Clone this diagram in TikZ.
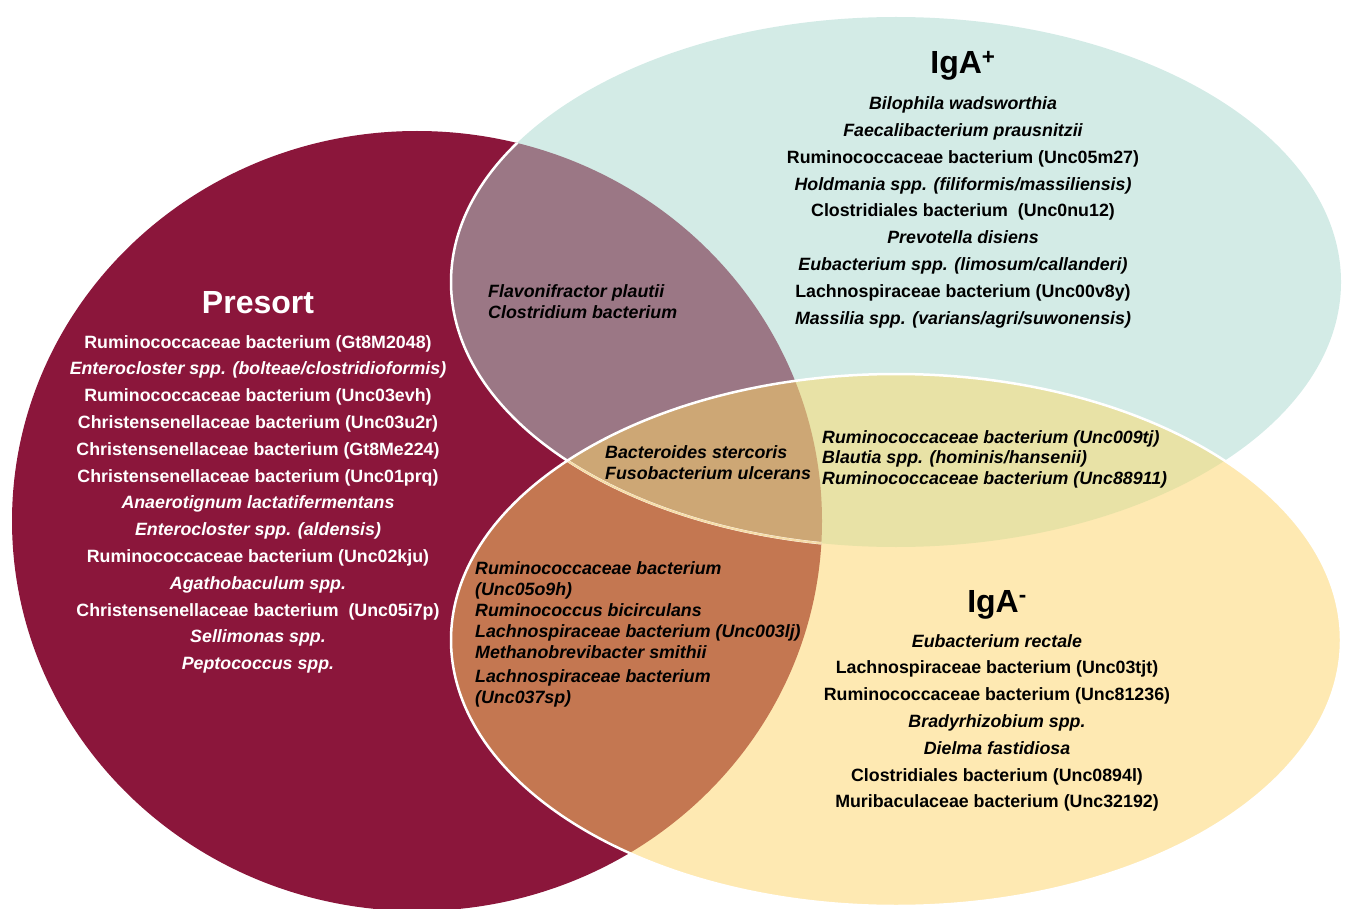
\documentclass[tikz,border=0pt]{standalone}
\usepackage{fontspec}
\setmainfont{Liberation Sans}
\definecolor{cP}{HTML}{8B163B}
\definecolor{cPlus}{HTML}{D3EBE6}
\definecolor{cMinus}{HTML}{FEE9B2}
\definecolor{cPPlus}{HTML}{9B7785}
\definecolor{cPMinus}{HTML}{C47751}
\definecolor{cPlusMinus}{HTML}{E8E2A6}
\definecolor{cAll}{HTML}{CDA775}
\definecolor{cPale}{HTML}{F6DDA8}
\begin{document}
\begin{tikzpicture}[x=1pt,y=-1pt,
  txt/.style={font=\fontsize{17.8}{21}\selectfont\bfseries, inner sep=0pt, anchor=base},
  ltxt/.style={txt, anchor=base west},
  itx/.style={ltxt, font=\fontsize{17.8}{21}\selectfont\bfseries\itshape},
  ttl/.style={font=\fontsize{32}{38}\selectfont\bfseries, inner sep=0pt, anchor=base},
  outline/.style={white, line width=2.5pt}]
\useasboundingbox (0,0) rectangle (1346,909);
\def\Pell{(417,521) ellipse [x radius=405, y radius=390]}
\def\Plus{(896,282) ellipse [x radius=445, y radius=265]}
\def\Minus{(896,640) ellipse [x radius=445, y radius=266]}
% base fills
\fill[cP] \Pell;
\fill[cPlus] \Plus;
\fill[cMinus] \Minus;
% intersections
\begin{scope} \clip \Pell; \fill[cPPlus] \Plus; \end{scope}
\begin{scope} \clip \Pell; \fill[cPMinus] \Minus; \end{scope}
\begin{scope} \clip \Plus; \fill[cPlusMinus] \Minus; \end{scope}
\begin{scope} \clip \Pell; \clip \Plus; \fill[cAll] \Minus; \end{scope}
% outlines
\begin{scope} \clip \Pell; \draw[outline] \Plus; \end{scope}
\begin{scope} \clip \Pell; \clip \Minus; \draw[cPale, line width=2pt] \Plus; \end{scope}
\draw[outline] \Minus;

% titles
\node[ttl, white] (tP) at (258,313) {Presort};
\node[ttl] (tPlus) at (963,74) {IgA\textsuperscript{+}};
\node[ttl] (tMinus) at (997,612) {IgA\textsuperscript{-}};

% Presort list
\foreach \t [count=\i] in {
  Ruminococcaceae bacterium (Gt8M2048),
  {\itshape Enterocloster spp. (bolteae/clostridioformis)},
  Ruminococcaceae bacterium (Unc03evh),
  Christensenellaceae bacterium (Unc03u2r),
  Christensenellaceae bacterium (Gt8Me224),
  Christensenellaceae bacterium (Unc01prq),
  {\itshape Anaerotignum lactatifermentans},
  {\itshape Enterocloster spp. (aldensis)},
  Ruminococcaceae bacterium (Unc02kju),
  {\itshape Agathobaculum spp.},
  Christensenellaceae bacterium\ \ (Unc05i7p),
  {\itshape Sellimonas spp.},
  {\itshape Peptococcus spp.}}
  \node[txt, white] (pre\i) at (258,{348+(\i-1)*26.8}) {\t};

% IgA+ list
\foreach \t [count=\i] in {
  {\itshape Bilophila wadsworthia},
  {\itshape Faecalibacterium prausnitzii},
  Ruminococcaceae bacterium (Unc05m27),
  {\itshape Holdmania spp. (filiformis/massiliensis)},
  Clostridiales bacterium\ \ (Unc0nu12),
  {\itshape Prevotella disiens},
  {\itshape Eubacterium spp. (limosum/callanderi)},
  Lachnospiraceae bacterium (Unc00v8y),
  {\itshape Massilia spp. (varians/agri/suwonensis)}}
  \node[txt] (plus\i) at (963,{110+(\i-1)*26.75}) {\t};

% IgA- list
\foreach \t [count=\i] in {
  {\itshape Eubacterium rectale},
  Lachnospiraceae bacterium (Unc03tjt),
  Ruminococcaceae bacterium (Unc81236),
  {\itshape Bradyrhizobium spp.},
  {\itshape Dielma fastidiosa},
  Clostridiales bacterium (Unc0894l),
  Muribaculaceae bacterium (Unc32192)}
  \node[txt] (minus\i) at (997,{647+(\i-1)*26.8}) {\t};

% Presort & IgA+
\node[itx] (pp1) at (488,298) {Flavonifractor plautii};
\node[itx] (pp2) at (488,318) {Clostridium bacterium};

% all three
\node[itx] (a1) at (605,458) {Bacteroides stercoris};
\node[itx] (a2) at (605,479) {Fusobacterium ulcerans};

% IgA+ & IgA-
\node[itx] (k1) at (822,443) {Ruminococcaceae bacterium (Unc009tj)};
\node[itx] (k2) at (822,463) {Blautia spp. (hominis/hansenii)};
\node[itx] (k3) at (822,484) {Ruminococcaceae bacterium (Unc88911)};

% Presort & IgA-
\foreach \t/\yy [count=\i] in {
  Ruminococcaceae bacterium/574,
  (Unc05o9h)/595,
  Ruminococcus bicirculans/616,
  Lachnospiraceae bacterium (Unc003lj)/637,
  Methanobrevibacter smithii/658,
  Lachnospiraceae bacterium/682,
  (Unc037sp)/703}
  \node[itx] (o\i) at (475,\yy) {\t};
\end{tikzpicture}
\end{document}
